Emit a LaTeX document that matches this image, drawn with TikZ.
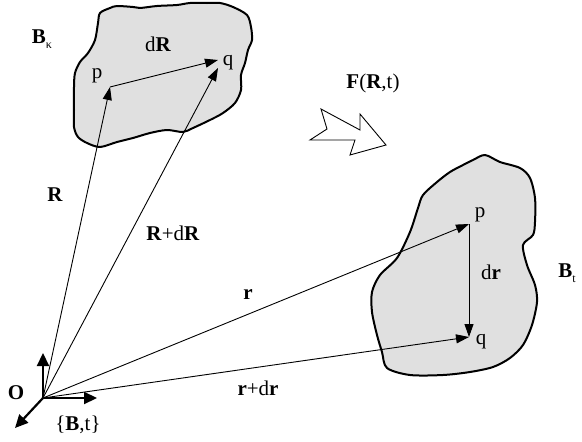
\documentclass[tikz,border=0pt]{standalone}
\usepackage{fontspec}
\setmainfont{Liberation Serif}
\usetikzlibrary{arrows.meta}
\tikzset{
  body/.style={draw=black, line width=2pt, fill=black!12, line join=round},
  vec/.style={line width=0.9pt, -{Triangle[length=13pt,width=9pt]}},
  axis/.style={line width=2.2pt, -{Triangle[length=13pt,width=12pt]}},
  lbl/.style={inner sep=0pt, font=\fontsize{21}{25}\selectfont},
  hollow/.style={draw=black, line width=0.9pt, fill=white, line join=miter}
}
\newcommand{\subsc}[1]{\raisebox{-5pt}{\fontsize{12}{12}\selectfont #1}}
\begin{document}
\begin{tikzpicture}[x=1pt,y=-1pt]
\useasboundingbox (0,0) rectangle (582,442);

% reference body
\draw[body] plot[smooth cycle, tension=0.5] coordinates {
 (100,13) (110,8) (117,6) (133,7) (140,8) (157,6) (177,5) (190,3) (207,3) (220,3)
 (233,7) (247,15) (251,27) (252,40) (248,50) (245,63) (241,75) (241,90) (235,103)
 (223,113) (210,120) (193,128) (183,132) (167,130) (150,133) (133,138) (117,142)
 (100,147) (87,143) (78,137) (74,127) (74,110) (74,87) (75,73) (80,62) (88,53)
 (95,40) (98,23)};

% current body
\draw[body] plot[smooth cycle, tension=0.5] coordinates {
 (485,155) (500,162) (520,168) (530,178) (535,198) (535,222) (533,235) (523,245)
 (527,265) (535,285) (537,302) (532,325) (523,345) (510,358) (493,367) (470,372)
 (443,375) (410,375) (387,368) (382,352) (377,335) (372,312) (372,292) (380,275)
 (397,258) (410,232) (418,208) (423,195) (437,182) (450,172) (463,165) (473,160)};

% hollow arrow
\draw[hollow] (310,140) -- (327,129) -- (321,109) -- (360,130) -- (360,114)
  -- (386,145) -- (350,155) -- (355,140) -- cycle;

% points
\coordinate (O) at (43,398);
\coordinate (pK) at (110,87);
\coordinate (qK) at (218,60);
\coordinate (qK2) at (218,68);
\coordinate (pT) at (469,224);
\coordinate (qT) at (469,337);
\coordinate (ax1) at (43,353);
\coordinate (ax2) at (97,398);
\coordinate (ax3) at (15,428);

% vectors
\draw[vec] (pK) -- (qK);
\draw[vec] (O) -- (pK);
\draw[vec] (O) -- (qK2);
\draw[vec] (O) -- (pT);
\draw[vec] (O) -- (qT);
\draw[vec] (pT) -- (qT);

% axes
\draw[axis] (O) -- (ax1);
\draw[axis] (O) -- (ax2);
\draw[axis] (O) -- (ax3);

% labels
\node[lbl] (lBk) at (42,39) {\textbf{B}\subsc{κ}};
\node[lbl] (ldR) at (158,44) {d\textbf{R}};
\node[lbl] (lpK) at (97,76) {p};
\node[lbl] (lqK) at (228,63) {q};
\node[lbl] (lF) at (373,83) {\textbf{F}(\textbf{R},t)};
\node[lbl] (lR) at (55,195) {\textbf{R}};
\node[lbl] (lRdR) at (173,233) {\textbf{R}+d\textbf{R}};
\node[lbl] (lr) at (248,295) {\textbf{r}};
\node[lbl] (lrdr) at (258,388) {\textbf{r}+d\textbf{r}};
\node[lbl] (lO) at (16,393) {\textbf{O}};
\node[lbl] (lBt0) at (78,425) {\{\textbf{B},t\}};
\node[lbl] (lpT) at (480,215) {p};
\node[lbl] (lqT) at (481,342) {q};
\node[lbl] (ldr) at (491,272) {d\textbf{r}};
\node[lbl] (lBt) at (567,273) {\textbf{B}\subsc{t}};
\end{tikzpicture}
\end{document}
